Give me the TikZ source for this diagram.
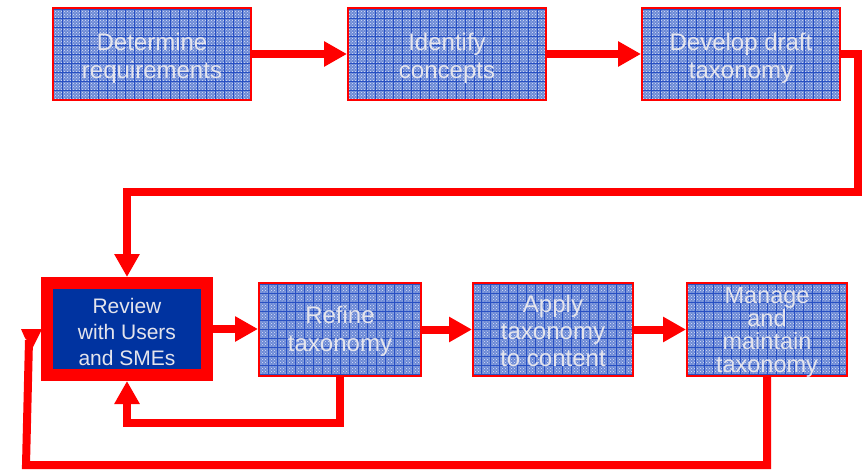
\documentclass[tikz,border=0pt]{standalone}
\usepackage{fontspec}
\setmainfont{Liberation Sans}
\usetikzlibrary{arrows.meta,patterns}
\definecolor{flowred}{RGB}{255,0,0}
\definecolor{boxblue}{RGB}{108,138,214}
\definecolor{gridblue}{RGB}{40,80,195}
\definecolor{speck}{RGB}{222,228,250}
\definecolor{deepblue}{RGB}{0,51,160}
\definecolor{paletext}{RGB}{228,228,236}
\tikzset{
  stage/.style={rectangle, draw=flowred, line width=2pt, outer sep=1pt,
    preaction={fill=boxblue},
    pattern=crosshatch dots, pattern color=speck,
    path picture={\draw[gridblue, line width=0.5pt]
      (path picture bounding box.south west) grid[step=9pt]
      (path picture bounding box.north east);}},
  stagetext/.style={text=paletext, align=center, inner sep=0pt,
    font=\fontsize{24}{28}\selectfont},
  focus/.style={rectangle, draw=flowred, line width=12pt, outer sep=6pt,
    fill=deepblue, minimum width=160pt, minimum height=92pt},
  focustext/.style={text=paletext, align=center, inner sep=0pt,
    font=\fontsize{21}{26}\selectfont},
  flow/.style={draw=flowred, line width=8pt,
    -{Triangle[length=23pt,width=24pt]}},
  flowline/.style={draw=flowred, line width=8pt}
}
\begin{document}
\begin{tikzpicture}[x=1pt,y=-1pt]
\useasboundingbox (0,0) rectangle (862,469);

% top row
\node[stage, minimum width=198pt, minimum height=92pt] (det) at (152,54) {};
\node[stage, minimum width=198pt, minimum height=92pt] (ide) at (447,54) {};
\node[stage, minimum width=198pt, minimum height=92pt] (dev) at (741,54) {};
\node[stagetext] (detT) at ([yshift=-4pt]det.center) {Determine\\requirements};
\node[stagetext] (ideT) at ([yshift=-4pt]ide.center) {Identify\\concepts};
\node[stagetext] (devT) at ([yshift=-4pt]dev.center) {Develop draft\\taxonomy};

% bottom row
\node[focus] (rev) at (127,329) {};
\node[stage, minimum width=162pt, minimum height=93pt] (ref) at (340,329.5) {};
\node[stage, minimum width=160pt, minimum height=93pt] (app) at (553,329.5) {};
\node[stage, minimum width=160pt, minimum height=93pt] (man) at (767,329.5) {};
\node[focustext] (revT) at ([yshift=-3pt]rev.center) {Review\\with Users\\and SMEs};
\node[stagetext] (refT) at ([yshift=-2pt]ref.center) {Refine\\taxonomy};
\node[stagetext, font=\fontsize{24}{27}\selectfont] (appT)
  at ([yshift=-1pt]app.center) {Apply\\taxonomy\\to content};
\node[stagetext, font=\fontsize{23.5}{23}\selectfont] (manT)
  at ([yshift=-3pt]man.center) {Manage\\and\\maintain\\taxonomy};

% bend points of the long connectors
\coordinate (turnA) at (858,192);
\coordinate (turnB) at (127,423);
\coordinate (turnC) at (26,465);
\coordinate (turnD) at (29,340);

% forward flow
\draw[flow] (det.east) -- (det.east -| ide.west);
\draw[flow] (ide.east) -- (ide.east -| dev.west);
\draw[flow] (dev.east) -| (turnA) -| (rev.north);
\draw[flow] (rev.east) -- (rev.east -| ref.west);
\draw[flow] (ref.east) -- (ref.east -| app.west);
\draw[flow] (app.east) -- (app.east -| man.west);

% feedback loops
\draw[flow] (ref.south) |- (turnB) -- (rev.south);
\draw[flowline] (man.south) |- (turnC) -- (turnD);
\fill[flowred] (21,329) -- (42,329) -- (33,347) -- (25,338) -- cycle;
\end{tikzpicture}
\end{document}
